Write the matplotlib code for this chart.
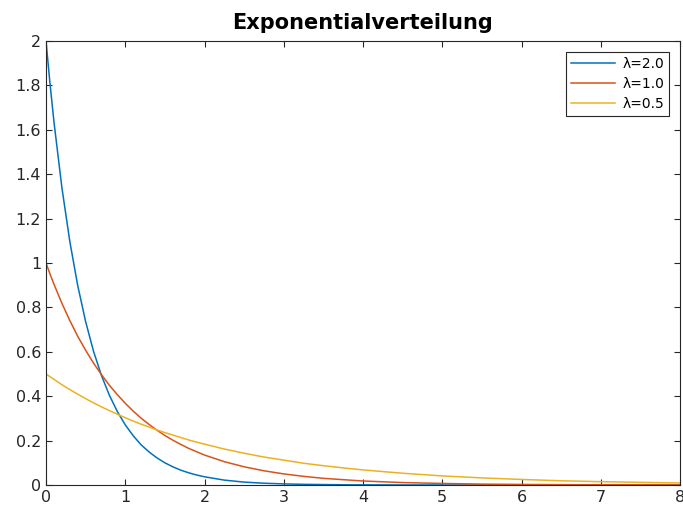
import numpy as np
import matplotlib.pyplot as plt

# values
x = [0, 0.05, 0.1, 0.2, 0.3, 0.4, 0.5, 0.6, 0.7, 0.8, 0.9, 1.0, 1.1, 1.2, 1.3, 1.4,
     1.5, 1.6, 1.7, 1.8, 1.9, 2.0, 2.25, 2.5, 2.75, 3.0, 3.25, 3.5, 3.75, 4.0,
     4.5, 5.0, 5.5, 6.0, 6.5, 7.0, 7.5, 8.0]
y_l20 = [2.000, 1.810, 1.637, 1.341, 1.098, 0.899, 0.736, 0.602, 0.493, 0.404,
         0.331, 0.271, 0.222, 0.181, 0.149, 0.122, 0.100, 0.082, 0.067, 0.055,
         0.045, 0.037, 0.022, 0.013, 0.008, 0.005, 0.003, 0.002, 0.001, 0.0007,
         0.0002, 0.0001, 0, 0, 0, 0, 0, 0]
y_l10 = [1.000, 0.951, 0.905, 0.819, 0.741, 0.670, 0.607, 0.549, 0.497, 0.449,
         0.407, 0.368, 0.333, 0.301, 0.273, 0.247, 0.223, 0.202, 0.183, 0.165,
         0.150, 0.135, 0.105, 0.082, 0.064, 0.050, 0.039, 0.030, 0.024, 0.018,
         0.011, 0.007, 0.004, 0.0025, 0.0015, 0.0009, 0.0006, 0.0003]
y_l05 = [0.500, 0.488, 0.476, 0.452, 0.430, 0.409, 0.389, 0.370, 0.352, 0.335,
         0.319, 0.303, 0.288, 0.274, 0.261, 0.248, 0.236, 0.225, 0.214, 0.203,
         0.193, 0.184, 0.162, 0.143, 0.126, 0.112, 0.098, 0.087, 0.077, 0.068,
         0.053, 0.041, 0.032, 0.025, 0.019, 0.015, 0.012, 0.009]
labels = ["λ=2.0", "λ=1.0", "λ=0.5"]
colors = ["#0072BD", "#D95319", "#EDB120"]

fig = plt.figure(figsize=(6.83, 5.09), dpi=100)
ax = fig.add_axes([46/683, 1-485/509, (680-46)/683, (485-41)/509])

for ys, lab, c in zip([y_l20, y_l10, y_l05], labels, colors):
    ax.plot(x, ys, color=c, lw=1.1, label=lab)

ax.set_xlim(0, 8)
ax.set_ylim(0, 2)
ax.set_xticks(np.arange(0, 9, 1))
yt = np.arange(0, 2.01, 0.2).round(1)
ax.set_yticks(yt)
ax.set_yticklabels([f"{v:g}" for v in yt])
ax.tick_params(direction="in", top=True, right=True, labelsize=11.5,
               colors="#262626", length=4, width=0.8)
for s in ax.spines.values():
    s.set_color("#262626")
    s.set_linewidth(0.8)

# title
ax.set_title("Exponentialverteilung", fontsize=15, fontweight="bold", pad=8.5)
leg = ax.legend(loc="upper right", fontsize=10, fancybox=False, framealpha=1,
                edgecolor="#262626", handlelength=3.2, borderpad=0.35,
                labelspacing=0.42, handletextpad=0.5, borderaxespad=0.8)
leg.get_frame().set_linewidth(0.8)

fig.savefig("out.png", dpi=100)
